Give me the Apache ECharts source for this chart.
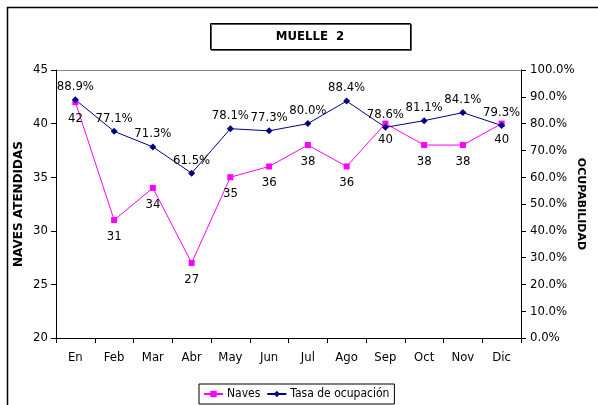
<!DOCTYPE html>
<html>
<head>
<meta charset="utf-8">
<script src="https://cdn.jsdelivr.net/npm/echarts@6/dist/echarts.min.js"></script>
<style>
  html, body { margin: 0; padding: 0; background: #fff; }
  #chart { width: 598px; height: 405px; }
</style>
</head>
<body>
<div id="chart"></div>
<script>
var months = ['En', 'Feb', 'Mar', 'Abr', 'May', 'Jun', 'Jul', 'Ago', 'Sep', 'Oct', 'Nov', 'Dic'];
var naves = [42, 31, 34, 27, 35, 36, 38, 36, 40, 38, 38, 40];
var tasa = [88.9, 77.1, 71.3, 61.5, 78.1, 77.3, 80.0, 88.4, 78.6, 81.1, 84.1, 79.3];

var font = '"DejaVu Sans Condensed", "DejaVu Sans"';
var chart = echarts.init(document.getElementById('chart'));

var option = {
  animation: false,
  textStyle: { fontFamily: font },
  graphic: [
    {
      type: 'rect',
      shape: { x: 7.5, y: 7.5, width: 600, height: 410 },
      style: { fill: null, stroke: '#000', lineWidth: 1.5 }
    },
    {
      type: 'rect',
      shape: { x: 210.5, y: 23.5, width: 200, height: 26 },
      style: { fill: '#fff', stroke: '#000', lineWidth: 1, shadowColor: '#555', shadowOffsetX: 1, shadowOffsetY: 1 }
    },
    {
      type: 'text',
      x: 310, y: 37,
      style: {
        text: 'MUELLE  2', font: 'bold 13px "DejaVu Sans Condensed", "DejaVu Sans"', fill: '#000',
        align: 'center', verticalAlign: 'middle'
      }
    },
    {
      type: 'line',
      shape: { x1: 56, y1: 70.5, x2: 521, y2: 70.5 },
      style: { stroke: '#888', lineWidth: 1 }
    }
  ],
  legend: {
    left: 199, top: 384,
    itemGap: 6,
    itemWidth: 19, itemHeight: 8,
    padding: [4, 5, 4, 4],
    borderColor: '#000', borderWidth: 1,
    textStyle: { fontSize: 12, color: '#000', fontFamily: font, padding: [0, 0, 0, -1] },
    data: ['Naves', 'Tasa de ocupación']
  },
  grid: { left: 56, right: 77, top: 70, bottom: 67, outerBoundsMode: 'none', containLabel: false },
  xAxis: {
    type: 'category',
    data: months,
    boundaryGap: true,
    axisLine: { lineStyle: { color: '#000', width: 1 } },
    axisTick: { show: true, length: 5, lineStyle: { color: '#000' } },
    axisLabel: { color: '#000', fontSize: 13, margin: 13, fontFamily: font }
  },
  yAxis: [
    {
      type: 'value',
      min: 20, max: 45, interval: 5,
      name: 'NAVES ATENDIDAS',
      nameLocation: 'middle',
      nameGap: 31,
      nameMoveOverlap: false,
      nameTextStyle: { fontWeight: 'bold', fontSize: 12, color: '#000', fontFamily: 'DejaVu Sans' },
      axisLine: { show: true, lineStyle: { color: '#000' } },
      axisTick: { show: true, length: 5, lineStyle: { color: '#000' } },
      axisLabel: { color: '#000', fontSize: 13, margin: 8, fontFamily: font },
      splitLine: { show: false }
    },
    {
      type: 'value',
      min: 0, max: 100, interval: 10,
      position: 'right',
      name: 'OCUPABILIDAD',
      nameLocation: 'middle',
      nameGap: 54,
      nameMoveOverlap: false,
      nameRotate: -90,
      nameTextStyle: { fontWeight: 'bold', fontSize: 11, color: '#000', fontFamily: 'DejaVu Sans' },
      axisLine: { show: true, lineStyle: { color: '#000' } },
      axisTick: { show: true, length: 5, lineStyle: { color: '#000' } },
      axisLabel: {
        color: '#000', fontSize: 13, margin: 9, fontFamily: font,
        formatter: function (v) { return v.toFixed(1) + '%'; }
      },
      splitLine: { show: false }
    }
  ],
  series: [
    {
      name: 'Naves',
      type: 'line',
      yAxisIndex: 0,
      data: naves,
      symbol: 'rect',
      symbolSize: 6,
      itemStyle: { color: '#ff00ff' },
      lineStyle: { color: '#ff00ff', width: 1 },
      label: {
        show: true, position: 'bottom', distance: 7,
        color: '#000', fontSize: 13, fontFamily: font
      }
    },
    {
      name: 'Tasa de ocupación',
      type: 'line',
      yAxisIndex: 1,
      data: tasa,
      symbol: 'diamond',
      symbolSize: 7,
      itemStyle: { color: '#000080' },
      lineStyle: { color: '#000080', width: 1 },
      label: {
        show: true, position: 'top', distance: 3,
        color: '#000', fontSize: 13, fontFamily: font,
        formatter: function (p) { return p.value.toFixed(1) + '%'; }
      }
    }
  ]
};

chart.setOption(option);
</script>
</body>
</html>
